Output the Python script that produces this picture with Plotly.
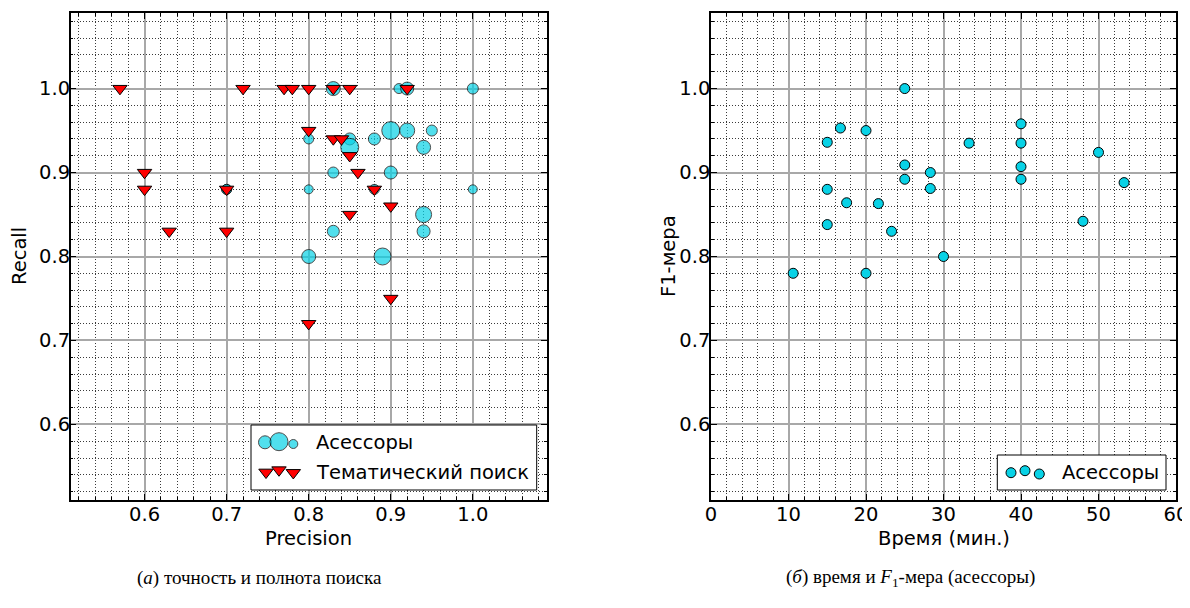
import plotly.graph_objects as go

# ---------------- data ----------------
precision_assessors = [0.83, 0.91, 0.92, 1.00, 0.90, 0.92, 0.95, 0.80, 0.85, 0.85, 0.88, 0.94,
                       0.83, 0.90, 0.70, 0.70, 0.80, 0.88, 1.00, 0.94, 0.94, 0.83, 0.80, 0.89]
recall_assessors = [1.00, 1.00, 1.00, 1.00, 0.95, 0.95, 0.95, 0.94, 0.94, 0.93, 0.94, 0.93,
                    0.90, 0.90, 0.88, 0.88, 0.88, 0.88, 0.88, 0.85, 0.83, 0.83, 0.80, 0.80]
bubble_assessors = [14, 10, 13, 11, 18, 15, 11, 10, 12, 18, 12, 14,
                    11, 13, 10, 10, 9, 10, 9, 16, 13, 12, 14, 17]

precision_topic = [0.57, 0.72, 0.77, 0.78, 0.80, 0.83, 0.85, 0.92, 0.80, 0.83, 0.84, 0.85,
                   0.60, 0.60, 0.70, 0.86, 0.88, 0.90, 0.85, 0.63, 0.70, 0.90, 0.80]
recall_topic = [1.00, 1.00, 1.00, 1.00, 1.00, 1.00, 1.00, 1.00, 0.95, 0.94, 0.94, 0.92,
                0.90, 0.88, 0.88, 0.90, 0.88, 0.86, 0.85, 0.83, 0.83, 0.75, 0.72]

time_minutes = [25.0, 16.7, 20.0, 15.0, 33.3, 40.0, 40.0, 50.0, 25.0, 28.3, 25.0, 40.0,
                40.0, 15.0, 28.3, 53.3, 17.5, 21.6, 15.0, 23.3, 48.0, 10.6, 20.0, 30.0]
f1_assessors = [1.000, 0.953, 0.950, 0.936, 0.935, 0.958, 0.935, 0.924, 0.909, 0.900, 0.892, 0.907,
                0.892, 0.880, 0.881, 0.888, 0.864, 0.863, 0.838, 0.830, 0.842, 0.780, 0.780, 0.800]

series_names = ["Асессоры", "Тематический поиск"]
x_titles = ["Precision", "Время (мин.)"]
y_titles = ["Recall", "F1-мера"]
captions = ["(<i>а</i>) точность и полнота поиска",
            "(<i>б</i>) время и <i>F</i><sub>1</sub>-мера (асессоры)"]

# ---------------- styles / geometry ----------------
# the page body has an 8px margin, so the figure is drawn 8px in from the window corner
OFF = 8
W, H = 1190 - OFF, 608 - OFF
CYAN = "#08d2e6"
RED = "#ff0000"
FONT = "DejaVu Sans"
SERIF = "Liberation Serif"
FS = 19.5


def px(x):
    return x - OFF


def py(y):
    return y - OFF


fig = go.Figure()

circle_marker = dict(symbol="circle", color=CYAN, line=dict(color="black", width=1))
tri_marker = dict(symbol="triangle-down", color=RED, size=12.5, line=dict(color="black", width=1))

fig.add_trace(go.Scatter(x=precision_assessors, y=recall_assessors, mode="markers",
                         marker=dict(circle_marker, size=bubble_assessors),
                         xaxis="x", yaxis="y", showlegend=False))
fig.add_trace(go.Scatter(x=precision_topic, y=recall_topic, mode="markers",
                         marker=tri_marker, xaxis="x", yaxis="y", showlegend=False))
fig.add_trace(go.Scatter(x=time_minutes, y=f1_assessors, mode="markers",
                         marker=dict(circle_marker, size=10),
                         xaxis="x2", yaxis="y2", showlegend=False))


# ---------------- custom legends (pixel overlay axis x3/y3) ----------------
def box(x0, y0, x1, y1):
    x0, x1, y0, y1 = px(x0), px(x1), py(y0), py(y1)
    fig.add_trace(go.Scatter(x=[x0, x1, x1, x0, x0], y=[y0, y0, y1, y1, y0], mode="lines",
                             fill="toself", fillcolor="white", line=dict(color="black", width=1),
                             xaxis="x3", yaxis="y3", showlegend=False, hoverinfo="skip"))


def glyphs(xs, ys, marker):
    fig.add_trace(go.Scatter(x=[px(v) for v in xs], y=[py(v) for v in ys], mode="markers",
                             marker=marker, xaxis="x3", yaxis="y3",
                             showlegend=False, hoverinfo="skip"))


box(251, 425, 536.7, 490)
glyphs([265, 279, 293.3], [442.3, 441.7, 444], dict(circle_marker, size=[13, 18, 9]))
glyphs([266, 279, 293.3], [472.3, 470, 472.7], tri_marker)
box(997.3, 455, 1166, 490)
glyphs([1011, 1025, 1039.3], [472.7, 470.7, 474], dict(circle_marker, size=10))

annotations = []


def txt(x, y, s, size=FS, family=FONT, xanchor="left", angle=0):
    annotations.append(dict(x=px(x), y=py(y), xref="x3", yref="y3", text=s, showarrow=False,
                            xanchor=xanchor, yanchor="middle", textangle=angle,
                            font=dict(family=family, size=size, color="black")))


txt(314, 442, series_names[0])
txt(314, 472, series_names[1])
txt(1060, 472, series_names[0])

txt(308.7, 538, x_titles[0], xanchor="center")
txt(943.5, 538, x_titles[1], xanchor="center")
txt(19, 256, y_titles[0], xanchor="center", angle=-90)
txt(668, 256, y_titles[1], xanchor="center", angle=-90)
txt(259, 578, captions[0], size=19, family=SERIF, xanchor="center")
txt(910, 578, captions[1], size=19, family=SERIF, xanchor="center")

# ---------------- axes ----------------
y_dom = [1 - py(500) / H, 1 - py(13) / H]


def axis_style(domain, rng, dtick, minor_dtick, anchor, fmt, standoff):
    return dict(domain=domain, range=rng, anchor=anchor, dtick=dtick, tick0=0, tickformat=fmt,
                showline=True, linecolor="black", linewidth=1.5, mirror="ticks",
                ticks="inside", ticklen=6, tickwidth=1, tickcolor="black",
                ticklabelstandoff=standoff,
                showgrid=True, gridcolor="#a8a8a8", gridwidth=1.5,
                zeroline=False, automargin=False,
                tickfont=dict(family=FONT, size=FS, color="black"),
                minor=dict(dtick=minor_dtick, tick0=0, showgrid=True, gridcolor="#3a3a3a",
                           griddash="1px,2px", gridwidth=1, ticks="inside", ticklen=3,
                           tickcolor="black"))


fig.update_layout(
    width=W, height=H,
    margin=dict(l=0, r=0, t=0, b=0),
    paper_bgcolor="white", plot_bgcolor="rgba(0,0,0,0)",
    font=dict(family=FONT, size=FS, color="black"),
    xaxis=axis_style([px(70.7) / W, px(546.7) / W], [0.51, 1.09], 0.1, 0.02, "y", ".1f", -4),
    yaxis=axis_style(y_dom, [0.51, 1.09], 0.1, 0.02, "x", ".1f", -5),
    xaxis2=axis_style([px(711) / W, px(1176) / W], [0, 60], 10, 2, "y2", "d", -4),
    yaxis2=axis_style(y_dom, [0.51, 1.09], 0.1, 0.02, "x2", ".1f", -5),
    xaxis3=dict(domain=[0, 1], range=[0, W], visible=False, anchor="y3", fixedrange=True),
    yaxis3=dict(domain=[0, 1], range=[H, 0], visible=False, anchor="x3", fixedrange=True),
    annotations=annotations,
    showlegend=False,
)

fig.write_html("out.html")
